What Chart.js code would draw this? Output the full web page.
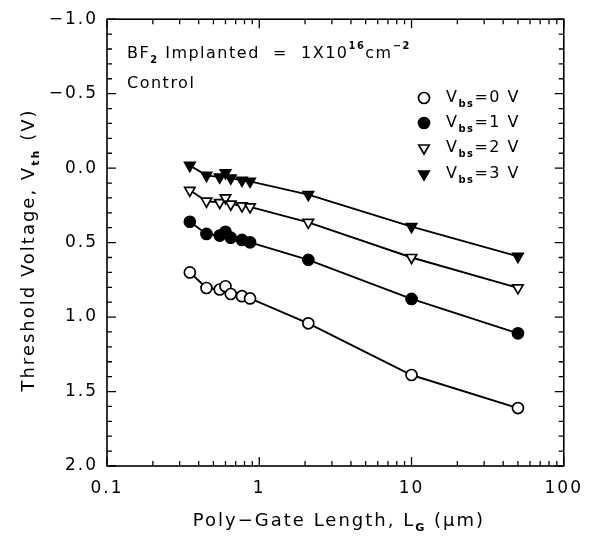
<!DOCTYPE html>
<html>
<head>
<meta charset="utf-8">
<script src="https://cdn.jsdelivr.net/npm/chart.js@4.4.1/dist/chart.umd.min.js"></script>
<style>
  html, body { margin: 0; padding: 0; background: #fff; }
  #wrap { width: 592px; height: 537px; }
</style>
</head>
<body>
<div id="wrap"><canvas id="vth"></canvas></div>
<script>
// gate lengths (um) and threshold voltages (V)
const gateLength = [0.35, 0.45, 0.55, 0.6, 0.65, 0.77, 0.87, 2.1, 10, 50];
const vthBs0 = [0.70, 0.805, 0.815, 0.793, 0.845, 0.86, 0.875, 1.042, 1.389, 1.611];
const vthBs1 = [0.36, 0.442, 0.453, 0.427, 0.467, 0.482, 0.498, 0.616, 0.878, 1.109];
const vthBs2 = [0.149, 0.222, 0.231, 0.20, 0.242, 0.253, 0.26, 0.364, 0.60, 0.804];
const vthBs3 = [-0.018, 0.049, 0.06, 0.031, 0.067, 0.082, 0.089, 0.178, 0.393, 0.593];
const biasLabels = ['0', '1', '2', '3'];

const yTicks = [-1.0, -0.5, 0.0, 0.5, 1.0, 1.5, 2.0];
const xTicks = [0.1, 1, 10, 100];

const FONT = '"DejaVu Sans", sans-serif';

function pts(ys) {
    return gateLength.map((x, i) => ({ x: x, y: ys[i] }));
}

const markers = [
    { style: 'circle', fill: '#fff', r: 5.5, rot: 0 },
    { style: 'circle', fill: '#000', r: 5.5, rot: 0 },
    { style: 'triangle', fill: '#fff', r: 6, rot: 180 },
    { style: 'triangle', fill: '#000', r: 6, rot: 180 }
];

function makeSet(ys, m) {
    return {
        data: pts(ys),
        borderColor: '#000',
        borderWidth: 1.9,
        pointStyle: m.style,
        pointRadius: m.r,
        pointRotation: m.rot,
        pointBackgroundColor: m.fill,
        pointBorderColor: '#000',
        pointBorderWidth: 1.7,
        tension: 0,
        fill: false
    };
}

// draw text with sub/superscript pieces: [text, 'n'|'sub'|'sup']
function richText(ctx, parts, x, y, size) {
    let cx = x;
    parts.forEach(p => {
        let s = size, dy = 0;
        if (p[1] === 'sub') { s = size * 0.62; dy = size * 0.38; }
        if (p[1] === 'sup') { s = size * 0.62; dy = -size * 0.45; }
        ctx.font = (p[1] === 'n' ? '' : 'bold ') + s + 'px ' + FONT;
        ctx.fillText(p[0], cx, y + dy);
        cx += ctx.measureText(p[0]).width;
    });
    return cx - x;
}

function measureRich(ctx, parts, size) {
    let w = 0;
    parts.forEach(p => {
        let s = p[1] === 'n' ? size : size * 0.62;
        ctx.font = (p[1] === 'n' ? '' : 'bold ') + s + 'px ' + FONT;
        w += ctx.measureText(p[0]).width;
    });
    return w;
}

const frame = {
    id: 'frame',
    beforeDraw(chart) {
        chart.ctx.letterSpacing = '2px';
    },
    afterDraw(chart) {
        const ctx = chart.ctx;
        const a = chart.chartArea;
        const xs = chart.scales.x, ys = chart.scales.y;
        ctx.save();
        ctx.strokeStyle = '#000';
        ctx.lineWidth = 1.6;
        ctx.strokeRect(a.left, a.top, a.right - a.left, a.bottom - a.top);
        ctx.lineWidth = 1.3;
        ctx.beginPath();
        // y ticks every 0.1, long ones at 0.5
        for (let i = 0; i <= 30; i++) {
            const v = -1 + i * 0.1;
            const py = ys.getPixelForValue(v);
            const len = i % 5 === 0 ? 9 : 5;
            ctx.moveTo(a.left, py); ctx.lineTo(a.left + len, py);
            ctx.moveTo(a.right, py); ctx.lineTo(a.right - len, py);
        }
        // x ticks, decades long
        for (let d = -1; d < 2; d++) {
            for (let k = 1; k <= 10; k++) {
                const v = k * Math.pow(10, d);
                const px = xs.getPixelForValue(v);
                const len = (k === 1 || k === 10) ? 9 : 5;
                ctx.moveTo(px, a.bottom); ctx.lineTo(px, a.bottom - len);
                ctx.moveTo(px, a.top); ctx.lineTo(px, a.top + len);
            }
        }
        ctx.stroke();

        ctx.fillStyle = '#000';
        ctx.textBaseline = 'middle';
        ctx.textAlign = 'left';
        ctx.letterSpacing = '1.5px';

        // annotations
        richText(ctx, [['BF', 'n'], ['2', 'sub'], [' Implanted  =  1X10', 'n'], ['16', 'sup'], ['cm', 'n'], ['\u22122', 'sup']], 127, 54, 16);
        richText(ctx, [['Control', 'n']], 127, 84, 16);

        // legend
        const rowY = [98, 123, 148, 174];
        biasLabels.forEach((b, i) => {
            const m = markers[i];
            const mx = 424, my = rowY[i];
            ctx.beginPath();
            ctx.lineWidth = 1.7;
            if (m.style === 'circle') {
                ctx.arc(mx, my, m.r, 0, Math.PI * 2);
            } else {
                const r = m.r;
                ctx.moveTo(mx - r * 0.866, my - r * 0.5);
                ctx.lineTo(mx + r * 0.866, my - r * 0.5);
                ctx.lineTo(mx, my + r);
                ctx.closePath();
            }
            ctx.fillStyle = m.fill;
            ctx.fill();
            ctx.stroke();
            ctx.fillStyle = '#000';
            richText(ctx, [['V', 'n'], ['bs', 'sub'], ['=' + b + ' V', 'n']], 446, my, 16);
        });

        // axis titles
        ctx.letterSpacing = '2px';
        const xt = [['Poly\u2212Gate Length, L', 'n'], ['G', 'sub'], [' (\u03bcm)', 'n']];
        const xw = measureRich(ctx, xt, 18);
        richText(ctx, xt, 339 - xw / 2, 521, 18);

        const yt = [['Threshold Voltage, V', 'n'], ['th', 'sub'], [' (V)', 'n']];
        ctx.save();
        ctx.translate(29, 250);
        ctx.rotate(-Math.PI / 2);
        const yw = measureRich(ctx, yt, 18);
        richText(ctx, yt, -yw / 2, 0, 18);
        ctx.restore();
        ctx.restore();
    }
};

new Chart(document.getElementById('vth'), {
    type: 'line',
    data: {
        datasets: [
            makeSet(vthBs0, markers[0]),
            makeSet(vthBs1, markers[1]),
            makeSet(vthBs2, markers[2]),
            makeSet(vthBs3, markers[3])
        ]
    },
    options: {
        responsive: true,
        maintainAspectRatio: false,
        animation: false,
        layout: { padding: { top: 16, right: 27, left: 0, bottom: 0 } },
        plugins: { legend: { display: false }, tooltip: { enabled: false } },
        scales: {
            x: {
                type: 'logarithmic',
                min: 0.1,
                max: 100,
                grid: { display: false, drawTicks: false },
                border: { display: false },
                afterBuildTicks: s => { s.ticks = xTicks.map(v => ({ value: v })); },
                afterFit: s => { s.height = 71; },
                ticks: {
                    color: '#000',
                    padding: 12,
                    maxRotation: 0,
                    font: { family: FONT, size: 17 },
                    callback: v => String(v)
                }
            },
            y: {
                type: 'linear',
                reverse: true,
                min: -1,
                max: 2,
                grid: { display: false, drawTicks: false },
                border: { display: false },
                afterBuildTicks: s => { s.ticks = yTicks.map(v => ({ value: v })); },
                afterFit: s => { s.width = 107; },
                ticks: {
                    color: '#000',
                    padding: 9,
                    font: { family: FONT, size: 17 },
                    callback: v => v.toFixed(1).replace('-', '\u2212')
                }
            }
        }
    },
    plugins: [frame]
});
</script>
</body>
</html>
